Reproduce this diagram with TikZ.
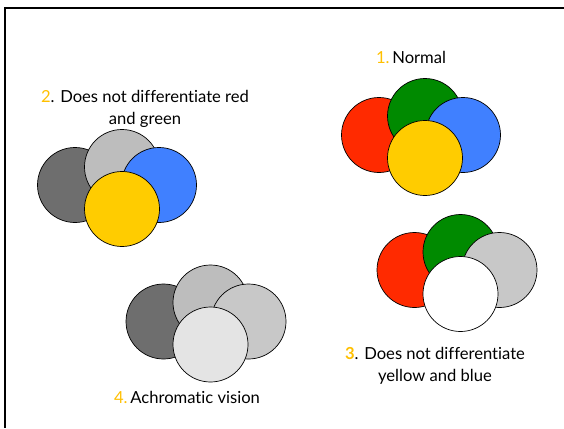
\documentclass[tikz,border=0pt]{standalone}
\usepackage{fontspec}
\setmainfont[RawFeature={-liga}]{Lato}
\definecolor{cred}{HTML}{FF2A00}
\definecolor{cgreen}{HTML}{008A00}
\definecolor{cblue}{HTML}{4080FF}
\definecolor{cyellow}{HTML}{FFCC00}
\definecolor{cnum}{HTML}{FFC000}
\definecolor{gdark}{HTML}{6E6E6E}
\definecolor{glight}{HTML}{BDBDBD}
\definecolor{gmid}{HTML}{C8C8C8}
\definecolor{gpale}{HTML}{E4E4E4}
\tikzset{
  disc/.style={circle, draw=black, line width=0.7pt, minimum size=75pt, inner sep=0pt},
  lbl/.style={font=\fontsize{16.6}{22}\selectfont, align=center, inner sep=0pt},
}
\newcommand{\num}[1]{\textcolor{cnum}{#1}}
\begin{document}
\begin{tikzpicture}[x=1pt,y=-1pt]
\useasboundingbox (0,0) rectangle (564,428);
\fill[white] (0,0) rectangle (564,428);
\coordinate (ftop) at (564,8);
\coordinate (fcorner) at (5,8);
\coordinate (fbot) at (5,428);
\draw[line width=2.2pt] (ftop) -- (fcorner) -- (fbot);
% group 1 normal
\node[disc, fill=cred] (n1r) at (379,135) {};
\node[disc, fill=cgreen] (n1g) at (425,116) {};
\node[disc, fill=cblue] (n1b) at (463,135) {};
\node[disc, fill=cyellow] (n1y) at (425,158) {};
\node[lbl] (t1) at (411,57) {\num{1.}\,Normal};
% group 2
\node[lbl] (t2) at (145,109) {\num{2}. Does not differentiate red\\and green};
\node[disc, fill=gdark] (n2r) at (75,185) {};
\node[disc, fill=glight] (n2g) at (122,167) {};
\node[disc, fill=cblue] (n2b) at (159,185) {};
\node[disc, fill=cyellow] (n2y) at (122,209) {};
% group 3
\node[disc, fill=cred] (n3r) at (414.5,270) {};
\node[disc, fill=cgreen] (n3g) at (460.5,252) {};
\node[disc, fill=gmid] (n3b) at (499.5,270) {};
\node[disc, fill=white] (n3y) at (460.5,294) {};
\node[lbl] (t3) at (435,366) {\num{\bfseries 3}. Does not differentiate\\yellow and blue};
% group 4
\node[disc, fill=gdark] (n4r) at (163.5,321.5) {};
\node[disc, fill=glight] (n4g) at (210.5,302.5) {};
\node[disc, fill=gmid] (n4b) at (248.5,321.5) {};
\node[disc, fill=gpale] (n4y) at (210.5,344.5) {};
\node[lbl] (t4) at (187,397) {\num{4.}\,Achromatic vision};
\end{tikzpicture}
\end{document}
